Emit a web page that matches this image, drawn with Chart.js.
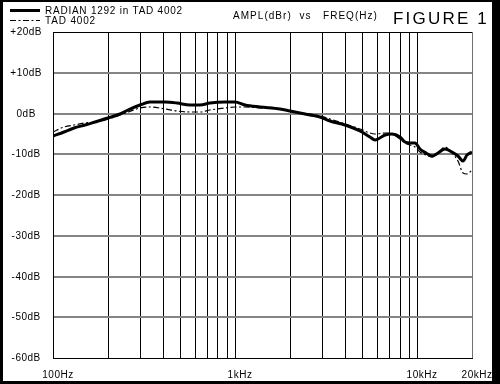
<!DOCTYPE html>
<html>
<head>
<meta charset="utf-8">
<script src="https://cdn.jsdelivr.net/npm/chart.js@4/dist/chart.umd.min.js"></script>
<style>
  html, body { margin: 0; padding: 0; background: #000; }
  #wrap { width: 500px; height: 384px; }
</style>
</head>
<body>
<div id="wrap"><canvas id="c" width="500" height="384"></canvas></div>
<script>
// ---- data ----
const freqHz = [100,115,130,150,170,200,233,258,300,341,412,480,566,642,729,881,1000,1134,1372,1767,2005,2276,2583,2931,3327,4022,4863,5519,5879,6673,7290,8064,8594,9153,9750,10387,11207,12090,13050,14250,15570,16800,17890,18820,20000];
const radianDb = [-5.5,-4.5,-3.6,-2.8,-2.2,-1.2,-0.2,0.9,2.1,2.7,2.8,2.6,2.2,2.2,2.6,2.7,2.7,2.2,1.5,1.1,0.7,0.1,-0.3,-0.8,-1.8,-2.8,-4.2,-5.8,-6.5,-5.3,-5.0,-5.7,-7.0,-7.2,-7.3,-8.8,-9.6,-10.4,-9.6,-8.6,-9.4,-10.5,-11.6,-10.2,-9.4];
const tadDb    = [-4.5,-3.4,-2.8,-2.4,-2.0,-1.3,-0.4,0.4,1.3,1.5,1.2,0.7,0.3,0.4,0.8,1.4,1.6,1.7,1.4,1.0,0.7,0.2,-0.2,-0.6,-1.4,-2.6,-3.9,-4.8,-5.0,-4.9,-5.1,-6.2,-7.2,-7.8,-8.3,-9.4,-10.3,-10.6,-9.8,-8.2,-9.6,-11.6,-14.5,-14.8,-13.8];
const seriesLabels = ['RADIAN 1292 in TAD 4002', 'TAD 4002'];
const xGridHz = [100,200,300,400,500,600,700,800,900,1000,2000,3000,4000,5000,6000,7000,8000,9000,10000,20000];
const xTickLabels = {100:'100Hz', 1000:'1kHz', 10000:'10kHz', 20000:'20kHz'};
const yMin = -60, yMax = 20, yStep = 10;
const axisTitle = 'AMPL(dBr)  vs   FREQ(Hz)';
const figureTitle = 'FIGURE 1';

const FONT = '"Liberation Sans", Arial, Helvetica, sans-serif';

function toPoints(ys) { return freqHz.map((f, i) => ({ x: f, y: ys[i] })); }

function fitText(ctx, text, x, y, targetW, font) {
  ctx.save();
  ctx.font = font;
  ctx.letterSpacing = '0px';
  const w = ctx.measureText(text).width;
  const ls = (targetW - w) / Math.max(1, text.length);
  ctx.letterSpacing = ls.toFixed(2) + 'px';
  ctx.fillStyle = '#000';
  ctx.textAlign = 'left';
  ctx.textBaseline = 'middle';
  ctx.fillText(text, x, y);
  ctx.restore();
}

const framePlugin = {
  id: 'frame',
  beforeUpdate(chart) { chart.ctx.letterSpacing = '0.5px'; },
  beforeDraw(chart) {
    const ctx = chart.ctx;
    ctx.letterSpacing = '0.5px';
    ctx.save();
    ctx.fillStyle = '#000';
    ctx.fillRect(0, 0, 500, 384);
    ctx.fillStyle = '#fff';
    ctx.fillRect(3, 2, 489, 379);
    ctx.restore();
  },
  afterDraw(chart) {
    const ctx = chart.ctx;
    const ds = chart.data.datasets;
    const rows = [11, 21];
    const widths = [138, 51];
    ds.forEach((d, i) => {
      ctx.save();
      ctx.strokeStyle = d.borderColor;
      ctx.lineWidth = d.borderWidth;
      ctx.setLineDash(d.borderDash || []);
      ctx.beginPath();
      ctx.moveTo(10, rows[i] - 0.5);
      ctx.lineTo(40, rows[i] - 0.5);
      ctx.stroke();
      ctx.restore();
      fitText(ctx, d.label, 45, rows[i], widths[i], '10px ' + FONT);
    });
    fitText(ctx, axisTitle, 233, 16, 145, '10px ' + FONT);
    fitText(ctx, figureTitle, 393, 19.5, 96, '17px ' + FONT);
  }
};

new Chart(document.getElementById('c'), {
  type: 'line',
  data: {
    datasets: [
      { label: seriesLabels[0], data: toPoints(radianDb), borderColor: '#000', borderWidth: 3,
        pointRadius: 0, cubicInterpolationMode: 'monotone', fill: false },
      { label: seriesLabels[1], data: toPoints(tadDb), borderColor: '#000', borderWidth: 1.2,
        borderDash: [6, 2.5, 2, 2.5], pointRadius: 0, cubicInterpolationMode: 'monotone', fill: false }
    ]
  },
  options: {
    responsive: false,
    animation: false,
    devicePixelRatio: 1,
    layout: { padding: { left: 0, right: 28, top: 32, bottom: 0 } },
    plugins: { legend: { display: false }, tooltip: { enabled: false }, title: { display: false } },
    scales: {
      x: {
        type: 'logarithmic',
        min: 100, max: 20000,
        alignToPixels: true,
        afterBuildTicks(scale) { scale.ticks = xGridHz.map(v => ({ value: v })); },
        afterFit(scale) { scale.height = 26; },
        grid: {
          drawTicks: false,
          lineWidth: 1,
          color: c => (c.tick && c.tick.value === 20000) ? '#707070' : '#000'
        },
        border: { display: true, color: '#000', width: 1 },
        ticks: {
          autoSkip: false, maxRotation: 0, minRotation: 0,
          padding: 11, labelOffset: 5,
          color: '#000',
          font: { family: FONT, size: 10 },
          callback: (v) => xTickLabels[v] || ''
        }
      },
      y: {
        type: 'linear',
        min: yMin, max: yMax,
        alignToPixels: true,
        afterFit(scale) { scale.width = 53; },
        grid: {
          drawTicks: false,
          lineWidth: c => (c.tick && (c.tick.value === yMin || c.tick.value === yMax)) ? 1 : 2,
          color: c => (c.tick && (c.tick.value === yMin || c.tick.value === yMax)) ? '#000' : '#858585'
        },
        border: { display: true, color: '#000', width: 1 },
        ticks: {
          stepSize: yStep,
          padding: 11,
          crossAlign: 'center',
          color: '#000',
          font: { family: FONT, size: 10 },
          callback: (v) => (v > 0 ? '+' : '') + v + 'dB'
        }
      }
    }
  },
  plugins: [framePlugin]
});
</script>
</body>
</html>
